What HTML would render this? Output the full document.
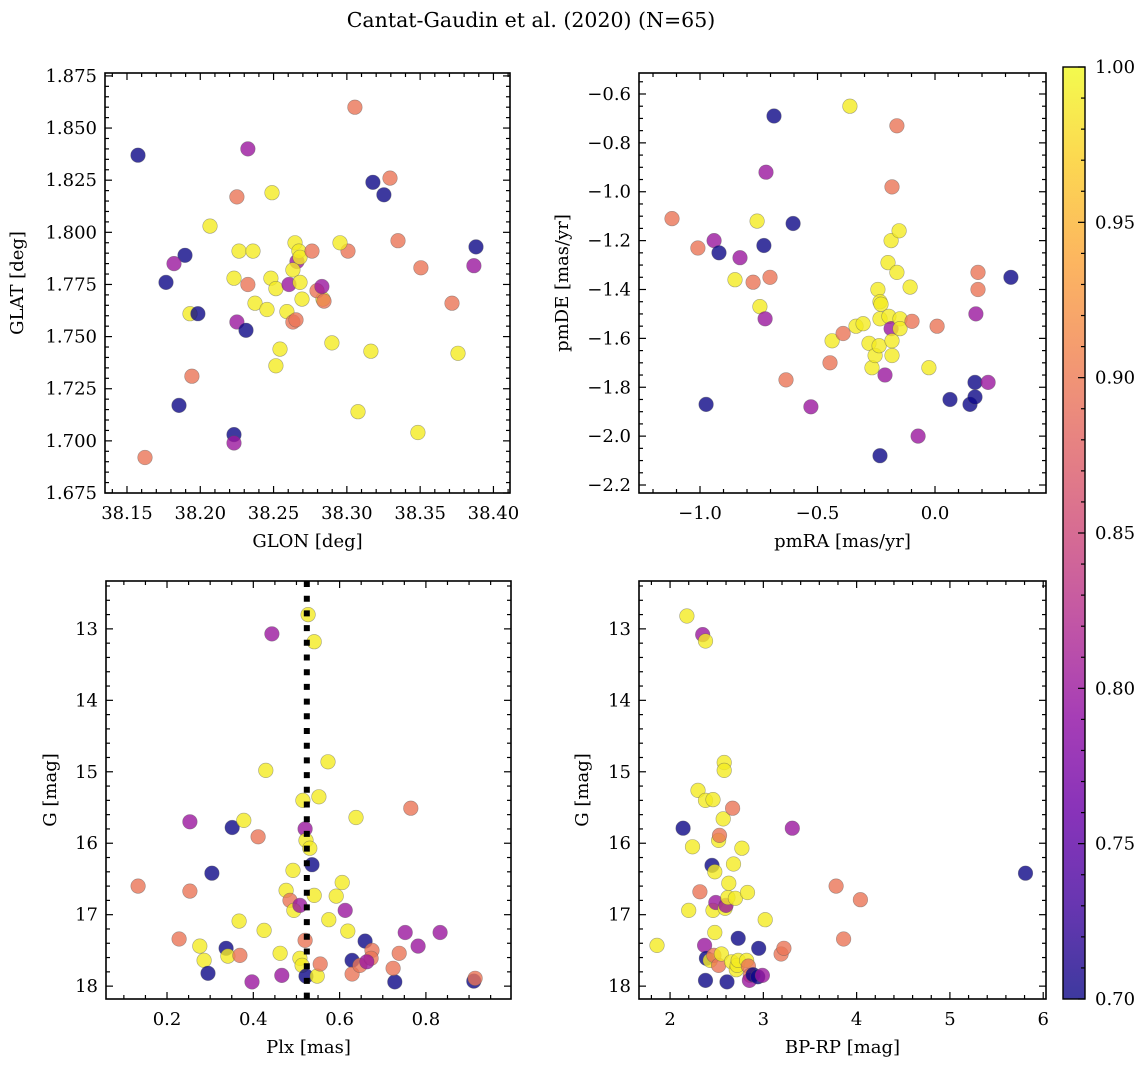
<!DOCTYPE html>
<html><head><meta charset="utf-8"><style>
html,body{margin:0;padding:0;background:#fff;}
svg{display:block;font-family:"DejaVu Serif","Liberation Serif",serif;}
</style></head><body>
<svg id="fig" width="1148" height="1067" viewBox="0 0 1148 1067" xmlns="http://www.w3.org/2000/svg">
<rect width="1148" height="1067" fill="#fff"/>
<text x="531" y="27" font-size="20.5" text-anchor="middle" fill="#000">Cantat-Gaudin et al. (2020) (N=65)</text>
<g id="layer"></g>
</svg>
<script>
// ---- Panel 1: GLON vs GLAT ----
const glon = [38.1575,38.1766,38.1896,38.1821,38.193,38.1984,38.1943,38.1855,38.1623,38.2066,38.2325,38.225,38.2489,38.2264,38.236,38.223,38.2325,38.2373,38.225,38.2312,38.2455,38.2482,38.2516,38.2605,38.2591,38.2632,38.2653,38.266,38.2646,38.2632,38.2673,38.2694,38.268,38.268,38.2544,38.2516,38.2762,38.2837,38.2796,38.283,38.2844,38.2898,38.3055,38.3008,38.2953,38.3076,38.3164,38.3178,38.3253,38.3294,38.3349,38.3505,38.3485,38.3717,38.3758,38.3867,38.3881,38.223,38.223];
const glat = [1.837,1.776,1.789,1.785,1.761,1.761,1.731,1.717,1.692,1.803,1.840,1.817,1.819,1.791,1.791,1.778,1.775,1.766,1.757,1.753,1.763,1.778,1.773,1.775,1.762,1.757,1.758,1.786,1.795,1.782,1.791,1.768,1.776,1.788,1.744,1.736,1.791,1.768,1.772,1.774,1.767,1.747,1.860,1.791,1.795,1.714,1.743,1.824,1.818,1.826,1.796,1.783,1.704,1.766,1.742,1.784,1.793,1.703,1.699];
const prob1 = [0.70,0.70,0.70,0.80,0.99,0.70,0.895,0.70,0.895,0.99,0.80,0.895,0.99,0.99,0.99,0.99,0.895,0.99,0.80,0.70,0.99,0.99,0.99,0.80,0.99,0.895,0.895,0.80,0.99,0.99,0.99,0.99,0.99,0.99,0.99,0.99,0.895,0.99,0.895,0.80,0.895,0.99,0.895,0.895,0.99,0.99,0.99,0.70,0.70,0.895,0.895,0.895,0.99,0.895,0.99,0.80,0.70,0.70,0.80];
// ---- Panel 2: pmRA vs pmDE ----
const pmra = [-1.119,-1.009,-0.940,-0.919,-0.974,-0.851,-0.830,-0.774,-0.757,-0.745,-0.728,-0.723,-0.719,-0.702,-0.685,-0.634,-0.604,-0.528,-0.447,-0.438,-0.391,-0.362,-0.336,-0.306,-0.281,-0.268,-0.255,-0.243,-0.234,-0.230,-0.234,-0.238,-0.234,-0.196,-0.213,-0.200,-0.183,-0.187,-0.187,-0.183,-0.183,-0.162,-0.153,-0.162,-0.149,-0.149,-0.106,-0.098,-0.072,-0.026,0.009,0.064,0.149,0.170,0.170,0.183,0.183,0.174,0.226,0.323];
const pmde = [-1.11,-1.23,-1.20,-1.25,-1.87,-1.36,-1.27,-1.37,-1.12,-1.47,-1.22,-1.52,-0.92,-1.35,-0.69,-1.77,-1.13,-1.88,-1.70,-1.61,-1.58,-0.65,-1.55,-1.54,-1.62,-1.72,-1.67,-1.40,-1.45,-1.46,-1.52,-1.63,-2.08,-1.51,-1.75,-1.29,-0.98,-1.20,-1.56,-1.61,-1.67,-0.73,-1.16,-1.33,-1.52,-1.56,-1.39,-1.53,-2.00,-1.72,-1.55,-1.85,-1.87,-1.84,-1.78,-1.33,-1.40,-1.50,-1.78,-1.35];
const prob2 = [0.895,0.895,0.80,0.70,0.70,0.99,0.80,0.895,0.99,0.99,0.70,0.80,0.80,0.895,0.70,0.895,0.70,0.80,0.895,0.99,0.895,0.99,0.99,0.99,0.99,0.99,0.99,0.99,0.99,0.99,0.99,0.99,0.70,0.99,0.80,0.99,0.895,0.99,0.80,0.99,0.99,0.895,0.99,0.99,0.99,0.99,0.99,0.895,0.80,0.99,0.895,0.70,0.70,0.70,0.70,0.895,0.895,0.80,0.80,0.70];
// ---- Panel 3: Plx vs G ----
const plx = [0.133,0.253,0.253,0.228,0.276,0.286,0.295,0.304,0.337,0.341,0.351,0.369,0.367,0.378,0.397,0.411,0.429,0.425,0.443,0.462,0.466,0.476,0.485,0.492,0.494,0.508,0.508,0.513,0.515,0.520,0.520,0.522,0.522,0.527,0.531,0.541,0.536,0.541,0.548,0.552,0.555,0.573,0.575,0.592,0.606,0.613,0.619,0.629,0.629,0.638,0.659,0.647,0.675,0.673,0.663,0.728,0.724,0.738,0.752,0.765,0.782,0.833,0.911,0.914];
const gmag3 = [16.60,15.70,16.67,17.34,17.44,17.64,17.82,16.42,17.47,17.58,15.78,17.57,17.09,15.68,17.94,15.91,14.98,17.22,13.07,17.54,17.85,16.66,16.80,16.38,16.94,16.87,17.61,17.71,15.40,17.36,15.80,15.96,17.86,12.80,16.07,13.18,16.30,16.73,17.86,15.35,17.69,14.86,17.07,16.74,16.55,16.94,17.23,17.64,17.83,15.64,17.37,17.71,17.50,17.61,17.66,17.94,17.75,17.54,17.25,15.51,17.44,17.25,17.93,17.89];
const prob3 = [0.895,0.80,0.895,0.895,0.99,0.99,0.70,0.70,0.70,0.99,0.70,0.895,0.99,0.99,0.80,0.895,0.99,0.99,0.80,0.99,0.80,0.99,0.895,0.99,0.99,0.80,0.99,0.99,0.99,0.895,0.80,0.99,0.70,0.99,0.99,0.99,0.70,0.99,0.99,0.99,0.895,0.99,0.99,0.99,0.99,0.80,0.99,0.70,0.895,0.99,0.70,0.895,0.895,0.895,0.80,0.70,0.895,0.895,0.80,0.895,0.80,0.80,0.70,0.895];
const plxRef = [0.524];
// ---- Panel 4: BP-RP vs G ----
const bprp = [1.86,2.18,2.14,2.20,2.24,2.30,2.32,2.35,2.38,2.38,2.37,2.39,2.38,2.43,2.46,2.45,2.46,2.47,2.48,2.48,2.52,2.49,2.52,2.53,2.55,2.59,2.57,2.58,2.58,2.60,2.62,2.61,2.63,2.66,2.67,2.68,2.70,2.71,2.72,2.73,2.73,2.77,2.82,2.83,2.84,2.86,2.85,2.89,2.94,2.99,2.95,3.02,3.19,3.22,3.31,3.78,3.86,4.04,5.81];
const gmag4 = [17.43,12.82,15.79,16.94,16.05,15.26,16.68,13.08,13.17,15.40,17.43,17.61,17.92,17.64,15.39,16.31,16.94,17.57,16.40,17.25,17.71,16.83,15.96,15.89,17.55,16.91,15.66,14.87,14.98,16.87,16.76,17.94,16.56,17.66,15.51,16.29,16.77,17.77,17.71,17.33,17.64,16.07,17.64,16.69,17.72,17.85,17.92,17.84,17.87,17.85,17.47,17.07,17.55,17.47,15.79,16.60,17.34,16.79,16.42];
const prob4 = [0.99,0.99,0.70,0.99,0.99,0.99,0.895,0.80,0.99,0.99,0.80,0.70,0.70,0.99,0.99,0.70,0.99,0.895,0.99,0.99,0.895,0.80,0.99,0.895,0.99,0.99,0.99,0.99,0.99,0.80,0.99,0.70,0.99,0.99,0.895,0.99,0.99,0.99,0.99,0.70,0.99,0.99,0.99,0.99,0.895,0.895,0.80,0.70,0.70,0.80,0.70,0.99,0.895,0.895,0.80,0.895,0.895,0.895,0.70];
// ---- Colorbar ticks ----
const cbTicks = [0.70,0.75,0.80,0.85,0.90,0.95,1.00];
const cbLabels = ["0.70","0.75","0.80","0.85","0.90","0.95","1.00"];

const NS = "http://www.w3.org/2000/svg";
const layer = document.getElementById('layer');
const FS = 18;
function mk(tag, attrs, parent){
  const e = document.createElementNS(NS, tag);
  for (const k in attrs) e.setAttribute(k, attrs[k]);
  (parent||layer).appendChild(e);
  return e;
}
const plasmaStops = ["#0d0887","#41049d","#6a00a8","#8f0da4","#b12a90","#cc4778","#e16462","#f2844b","#fca636","#fcce25","#f0f921"];
function hex2rgb(h){return [parseInt(h.substr(1,2),16),parseInt(h.substr(3,2),16),parseInt(h.substr(5,2),16)];}
function plasma(t){
  t=Math.max(0,Math.min(1,t));
  const f=t*10, i=Math.min(9,Math.floor(f)), r=f-i;
  const a=hex2rgb(plasmaStops[i]), b=hex2rgb(plasmaStops[i+1]);
  return 'rgb('+a.map((v,k)=>Math.round(v+(b[k]-v)*r)).join(',')+')';
}
const VMIN=0.70, VMAX=1.00;

function fmt(v,d){ const s=Math.abs(v).toFixed(d); return (v<-1e-9?'\u2212':'')+s; }

function panel(cfg){
  const g = mk('g',{});
  
  
  const X = v => cfg.x0 + (v-cfg.xmin)/(cfg.xmax-cfg.xmin)*(cfg.x1-cfg.x0);
  const Y = cfg.yinv
    ? v => cfg.y0 + (v-cfg.ymin)/(cfg.ymax-cfg.ymin)*(cfg.y1-cfg.y0)
    : v => cfg.y1 - (v-cfg.ymin)/(cfg.ymax-cfg.ymin)*(cfg.y1-cfg.y0);
  const pg = mk('g',{},g);
  
  
  for (let i=0;i<cfg.xs.length && i<cfg.ys.length;i++){
    const c = mk('circle',{cx:X(cfg.xs[i]).toFixed(1),cy:Y(cfg.ys[i]).toFixed(1),r:7.3,
      fill:plasma((cfg.cs[i]-VMIN)/(VMAX-VMIN)),'fill-opacity':0.8,stroke:'#555','stroke-opacity':0.5,'stroke-width':0.6},pg);
    
    
  }
  if (cfg.extra) cfg.extra(g,X,Y);
  const fr = mk('rect',{x:cfg.x0,y:cfg.y0,width:cfg.x1-cfg.x0,height:cfg.y1-cfg.y0,fill:'none',stroke:'#000','stroke-width':1.6},g);
  
  
  const eps=1e-9;
  const ticks = mk('g',{stroke:'#000','stroke-width':1.2},g);
  
  
  let n0=Math.ceil((cfg.xmin-eps)/cfg.xminor), n1=Math.floor((cfg.xmax+eps)/cfg.xminor);
  for(let n=n0;n<=n1;n++){
    const v=n*cfg.xminor, px=X(v);
    const major = Math.abs(v/cfg.xmajor - Math.round(v/cfg.xmajor))<1e-6;
    const L = major?7:4;
    mk('line',{x1:px,x2:px,y1:cfg.y1,y2:cfg.y1-L},ticks);
    mk('line',{x1:px,x2:px,y1:cfg.y0,y2:cfg.y0+L},ticks);
    if(major){
      const t=mk('text',{x:px,y:cfg.y1+26,'font-size':FS,'text-anchor':'middle',fill:'#000',stroke:'none'},g);
      t.textContent=fmt(v,cfg.xdec);
      
      
    }
  }
  n0=Math.ceil((cfg.ymin-eps)/cfg.yminor); n1=Math.floor((cfg.ymax+eps)/cfg.yminor);
  for(let n=n0;n<=n1;n++){
    const v=n*cfg.yminor, py=Y(v);
    const major = Math.abs(v/cfg.ymajor - Math.round(v/cfg.ymajor))<1e-6;
    const L = major?7:4;
    mk('line',{x1:cfg.x0,x2:cfg.x0+L,y1:py,y2:py},ticks);
    mk('line',{x1:cfg.x1,x2:cfg.x1-L,y1:py,y2:py},ticks);
    if(major){
      const t=mk('text',{x:cfg.x0-8,y:py+6,'font-size':FS,'text-anchor':'end',fill:'#000',stroke:'none'},g);
      t.textContent=fmt(v,cfg.ydec);
      
      
    }
  }
  const xl=mk('text',{x:(cfg.x0+cfg.x1)/2,y:cfg.y1+54,'font-size':FS,'text-anchor':'middle',fill:'#000'},g);
  xl.textContent=cfg.xlabel;
  
  
  const yc=(cfg.y0+cfg.y1)/2;
  const yl=mk('text',{x:cfg.ylx,y:yc,'font-size':FS,'text-anchor':'middle',fill:'#000',transform:'rotate(-90 '+cfg.ylx+' '+yc+')'},g);
  yl.textContent=cfg.ylabel;
  
  
}

panel({name:'glon-glat-panel',x0:105,x1:510,y0:73,y1:493,xmin:38.135,xmax:38.4113,ymin:1.675,ymax:1.8764,
  xmajor:0.05,xminor:0.01,ymajor:0.025,yminor:0.005,xdec:2,ydec:3,xs:glon,ys:glat,cs:prob1,
  xlabel:'GLON [deg]',ylabel:'GLAT [deg]',ylx:23});
panel({name:'pm-panel',x0:639,x1:1046,y0:73,y1:493,xmin:-1.2596,xmax:0.4723,ymin:-2.2327,ymax:-0.5141,
  xmajor:0.5,xminor:0.1,ymajor:0.2,yminor:0.05,xdec:1,ydec:1,xs:pmra,ys:pmde,cs:prob2,
  xlabel:'pmRA [mas/yr]',ylabel:'pmDE [mas/yr]',ylx:568});
panel({name:'plx-g-panel',x0:106,x1:511,y0:581,y1:999,xmin:0.0586,xmax:0.9972,ymin:12.33,ymax:18.18,yinv:true,
  xmajor:0.2,xminor:0.05,ymajor:1,yminor:0.2,xdec:1,ydec:0,xs:plx,ys:gmag3,cs:prob3,
  xlabel:'Plx [mas]',ylabel:'G [mag]',ylx:56,
  extra:(g,X,Y)=>{ const l=mk('line',{x1:X(plxRef[0]),x2:X(plxRef[0]),y1:581,y2:999,stroke:'#000','stroke-width':6,'stroke-dasharray':'6 8.7'},g);
    
     }});
panel({name:'cmd-panel',x0:639,x1:1046,y0:581,y1:999,xmin:1.667,xmax:6.03,ymin:12.33,ymax:18.18,yinv:true,
  xmajor:1,xminor:0.2,ymajor:1,yminor:0.2,xdec:0,ydec:0,xs:bprp,ys:gmag4,cs:prob4,
  xlabel:'BP-RP [mag]',ylabel:'G [mag]',ylx:588});

(function(){
  const cx0=1063,cx1=1085,cy0=67,cy1=999;
  const g=mk('g',{});
  
  
  const defs=mk('defs',{},g);
  const lg=mk('linearGradient',{id:'cbg',x1:0,y1:1,x2:0,y2:0},defs);
  for(let i=0;i<=20;i++){ mk('stop',{offset:(i/20),'stop-color':plasma(i/20),'stop-opacity':0.8},lg); }
  const r=mk('rect',{x:cx0,y:cy0,width:cx1-cx0,height:cy1-cy0,fill:'url(#cbg)',stroke:'#000','stroke-width':1.4},g);
  
  
  const C=v=>cy1-(v-VMIN)/(VMAX-VMIN)*(cy1-cy0);
  for(let n=70;n<=100;n++){
    const v=n/100, py=C(v), major=(n%5===0);
    mk('line',{x1:cx1,x2:cx1-(major?7:4),y1:py,y2:py,stroke:'#000','stroke-width':1.2},g);
  }
  cbTicks.forEach((v,i)=>{
    const t=mk('text',{x:cx1+10,y:C(v)+6,'font-size':FS,fill:'#000'},g);
    t.textContent=cbLabels[i];
    
    
  });
})();
</script>
</body></html>
